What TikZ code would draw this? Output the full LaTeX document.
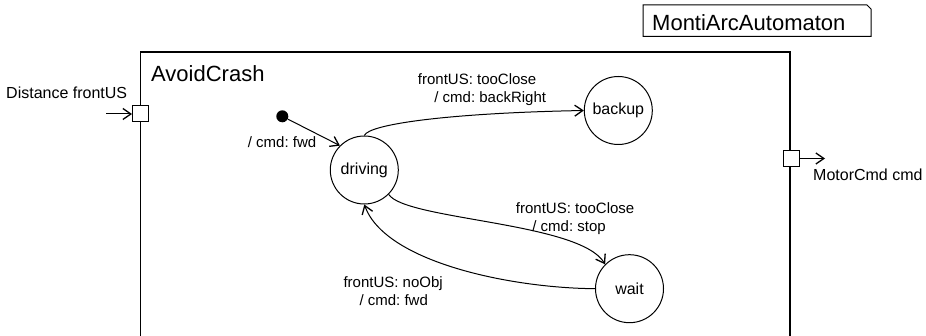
\documentclass[tikz,border=0pt]{standalone}
\usepackage{fontspec}
\setmainfont{Liberation Sans}
\usetikzlibrary{arrows.meta}
\frenchspacing
\begin{document}
\begin{tikzpicture}[x=1pt,y=-1pt,
  state/.style={circle,draw,line width=1pt,minimum size=68pt,inner sep=0pt,font=\fontsize{16}{19}\selectfont},
  port/.style={rectangle,draw,line width=1pt,fill=white,minimum size=16pt,inner sep=0pt},
  portlabel/.style={anchor=base west,inner sep=0pt,font=\fontsize{16}{19}\selectfont},
  trlabel/.style={anchor=base west,inner sep=0pt,align=left,font=\fontsize{15}{17.7}\selectfont},
  titlelabel/.style={anchor=base west,inner sep=0pt,font=\fontsize{22}{26}\selectfont},
  trans/.style={line width=1pt,-{Straight Barb[length=8pt,width=11pt,line width=1.3pt]}},
]
\useasboundingbox (0,0) rectangle (926,336);
% component box (open at the bottom)
\draw[line width=1.2pt] (140.5,336) -- (140.5,52) -- (790,52) -- (790,336);
% kind box with chamfered corner
\draw[line width=1pt] (643,5) -- (867,5) -- (871,9) -- (871,36.5) -- (643,36.5) -- cycle;
\node[titlelabel] (kind) at (652,30.7) {MontiArcAutomaton};
\node[titlelabel] (comp) at (151,81.7) {AvoidCrash};
% states
\node[state] (driving) at (364.3,170) {driving};
\node[state] (backup) at (618.3,110.5) {backup};
\node[state] (wait) at (629.5,288.7) {wait};
\node[circle,fill=black,minimum size=12pt,inner sep=0pt] (init) at (282.3,116.3) {};
% ports
\node[port] (inport) at (140.5,114) {};
\node[port] (outport) at (791,158.5) {};
\coordinate (infrom) at (106,114);
\coordinate (outto) at (825,158.5);
\node[portlabel] (inlbl) at (6,98.3) {Distance frontUS};
\node[portlabel] (outlbl) at (813,180.5) {MotorCmd cmd};
% transitions
\draw[trans] (init) -- (driving.135);
\draw[trans] (driving.north) .. controls (369,124) and (450,113) .. (backup.west);
\draw[trans] (driving.-45) .. controls (405,220) and (580,222) .. (wait.135);
\draw[trans] (wait.west) .. controls (510,288) and (385,262) .. (driving.south);
\draw[trans] (infrom) -- (inport.west);
\draw[trans] (outport.east) -- (outto);
% labels (base anchor = baseline of the last line)
\node[trlabel] (lblinit) at (247.7,147.3) {/ cmd: fwd};
\node[trlabel] (lblbackup) at (417.7,102.7) {frontUS: tooClose\\\hspace*{16.5pt}/ cmd: backRight};
\node[trlabel] (lblstop) at (515.7,231.3) {frontUS: tooClose\\\hspace*{16.5pt}/ cmd: stop};
\node[trlabel] (lblnoobj) at (343.3,305.5) {frontUS: noObj\\\hspace*{16pt}/ cmd: fwd};
\end{tikzpicture}
\end{document}
